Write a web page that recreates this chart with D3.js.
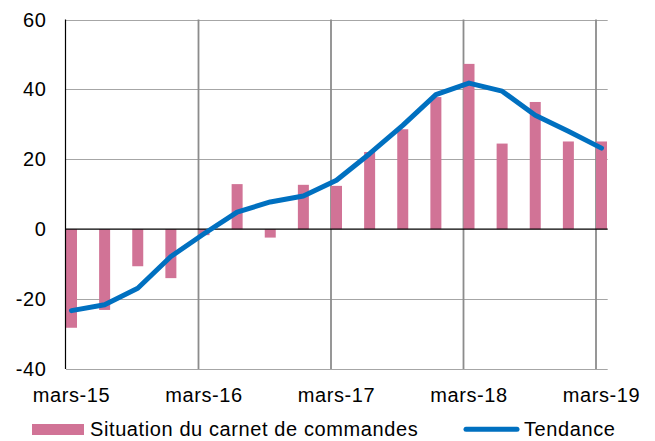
<!DOCTYPE html>
<html>
<head>
<meta charset="utf-8">
<script src="https://cdn.jsdelivr.net/npm/d3@7"></script>
<style>
  html, body { margin: 0; padding: 0; background: #fff; }
  svg { display: block; font-family: "Liberation Sans", Arial, sans-serif; }
</style>
</head>
<body>
<svg id="chart" width="655" height="441"></svg>
<script>
const quarters = ["mars-15","juin-15","sept-15","déc.-15","mars-16","juin-16","sept-16","déc.-16",
  "mars-17","juin-17","sept-17","déc.-17","mars-18","juin-18","sept-18","déc.-18","mars-19"];
const carnet = [-28.2, -23.1, -10.6, -14, -1.7, 12.9, -2.4, 12.7, 12.4, 22.1, 28.6, 37.8, 47.3, 24.5, 36.4, 25.1, 25.1];
const tendance = [-23.3, -21.6, -16.9, -7.8, -1.3, 4.9, 7.8, 9.5, 14, 21.6, 29.7, 38.5, 41.8, 39.5, 32.6, 28, 23.2];
const yTicks = [-40, -20, 0, 20, 40, 60];
const xLabelIdx = [0, 4, 8, 12, 16];
const legendLabels = ["Situation du carnet de commandes", "Tendance"];

const barColor = "#D17396";
const lineColor = "#0070C0";
const fontSize = 20;
const spacing = "0.6px";

const svg = d3.select("#chart");
const left = 66, barW = 11;
const x = d3.scaleLinear().domain([0, 16]).range([left, 596]);
const right = x(16) + 11.7;
const y = d3.scaleLinear().domain([-40, 60]).range([369, 19.5]);

// horizontal gridlines
svg.append("g").selectAll("line").data(yTicks.filter(v => v !== 0)).join("line")
  .attr("x1", left).attr("x2", right)
  .attr("y1", d => Math.round(y(d)) + 0.5).attr("y2", d => Math.round(y(d)) + 0.5)
  .attr("stroke", "#a6a6a6").attr("stroke-width", 1);

// vertical gridlines (years)
svg.append("g").selectAll("line").data(xLabelIdx.slice(1)).join("line")
  .attr("x1", d => x(d)).attr("x2", d => x(d))
  .attr("y1", y(60)).attr("y2", y(-40))
  .attr("stroke", "#8c8c8c").attr("stroke-width", 1.8);

// bars
svg.append("g").selectAll("rect").data(carnet).join("rect")
  .attr("x", (d, i) => x(i))
  .attr("width", barW)
  .attr("y", d => y(Math.max(0, d)))
  .attr("height", d => Math.abs(y(d) - y(0)))
  .attr("fill", barColor);

// zero line
svg.append("line").attr("x1", left).attr("x2", right)
  .attr("y1", y(0)).attr("y2", y(0)).attr("stroke", "#000").attr("stroke-width", 1.2);

// y axis line
svg.append("line").attr("x1", left - 0.5).attr("x2", left - 0.5)
  .attr("y1", y(60)).attr("y2", y(-40)).attr("stroke", "#000").attr("stroke-width", 1.2);

// trend line
const line = d3.line().x((d, i) => x(i) + barW / 2).y(d => y(d));
svg.append("path").datum(tendance).attr("d", line)
  .attr("fill", "none").attr("stroke", lineColor).attr("stroke-width", 5)
  .attr("stroke-linejoin", "round").attr("stroke-linecap", "round");

// y tick labels
svg.append("g").selectAll("text").data(yTicks).join("text")
  .attr("x", 46.5).attr("y", d => y(d)).attr("dy", "0.35em")
  .attr("text-anchor", "end").attr("font-size", fontSize).attr("letter-spacing", spacing).attr("fill", "#000")
  .text(d => d);

// x labels
svg.append("g").selectAll("text").data(xLabelIdx).join("text")
  .attr("x", d => x(d) + barW / 2).attr("y", 401.5)
  .attr("text-anchor", "middle").attr("font-size", fontSize).attr("letter-spacing", spacing).attr("fill", "#000")
  .text(d => quarters[d]);

// legend
svg.append("rect").attr("x", 32).attr("y", 424).attr("width", 52).attr("height", 11).attr("fill", barColor);
svg.append("text").attr("x", 90).attr("y", 435.5).attr("font-size", fontSize).attr("letter-spacing", spacing).text(legendLabels[0]);
svg.append("line").attr("x1", 466).attr("x2", 517).attr("y1", 429.3).attr("y2", 429.3)
  .attr("stroke", lineColor).attr("stroke-width", 5).attr("stroke-linecap", "round");
svg.append("text").attr("x", 524).attr("y", 435.5).attr("font-size", fontSize).attr("letter-spacing", spacing).text(legendLabels[1]);
</script>
</body>
</html>
